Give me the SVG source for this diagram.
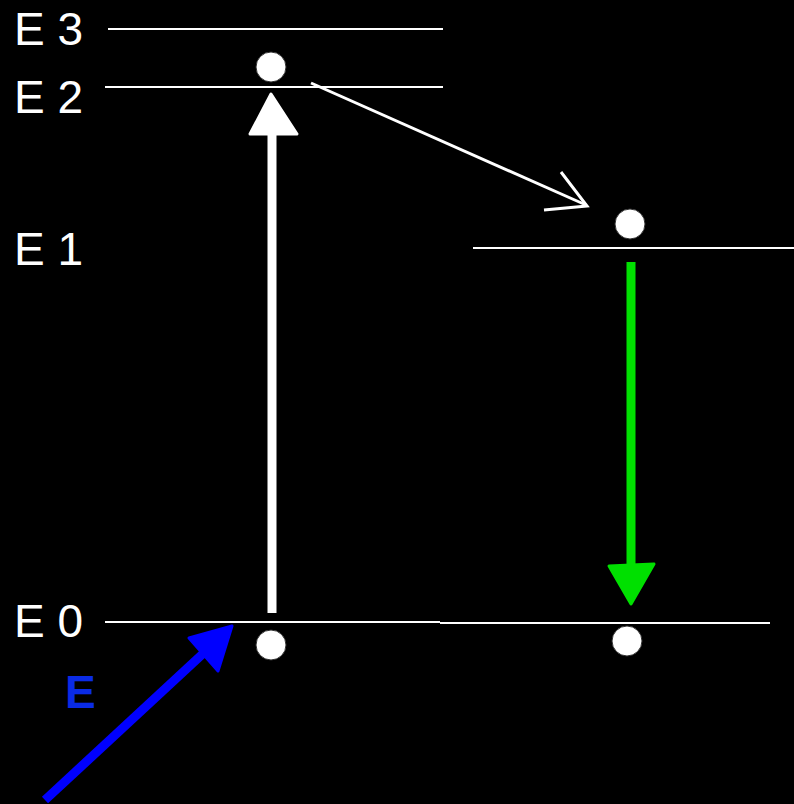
<svg xmlns="http://www.w3.org/2000/svg" width="794" height="804" viewBox="0 0 794 804">
<style>
.lvl{stroke:#fff;stroke-width:2;fill:none}
.lbl{font-family:"Liberation Sans",Arial,sans-serif;font-size:46px;fill:#fff}
.e{fill:#fff;stroke:#333;stroke-width:1}
</style>
<rect width="794" height="804" fill="#000"/>
<g id="levels">
<line class="lvl" x1="108" y1="29" x2="443" y2="29"/>
<line class="lvl" x1="105" y1="87" x2="443" y2="87"/>
<line class="lvl" x1="473" y1="248" x2="794" y2="248"/>
<line class="lvl" x1="105" y1="622" x2="440" y2="622"/>
<line class="lvl" x1="440" y1="623" x2="770" y2="623"/>
</g>
<g id="labels">
<text class="lbl" x="14" y="45">E 3</text>
<text class="lbl" x="14" y="113">E 2</text>
<text class="lbl" x="14" y="265">E 1</text>
<text class="lbl" x="14" y="637">E 0</text>
<text x="65" y="708" font-family="Liberation Sans,Arial,sans-serif" font-size="46" font-weight="bold" fill="#0a2be6">E</text>
</g>
<g id="electrons">
<circle class="e" cx="271" cy="67" r="15"/>
<circle class="e" cx="630" cy="224" r="15"/>
<circle class="e" cx="271" cy="645" r="15"/>
<circle class="e" cx="627" cy="641" r="15"/>
</g>
<g id="connectors">
<line x1="272" y1="613" x2="272" y2="128" stroke="#fff" stroke-width="9"/>
<polygon points="271,94 297,134 250,134" fill="#fff" stroke="#fff" stroke-width="3" stroke-linejoin="round"/>
<line x1="311" y1="83" x2="586" y2="205" stroke="#fff" stroke-width="3"/>
<polyline points="561,172 587,206 544,210" fill="none" stroke="#fff" stroke-width="3"/>
<line x1="631" y1="262" x2="631" y2="572" stroke="#00e000" stroke-width="9"/>
<polygon points="609,566 654,564 631,604" fill="#00e000" stroke="#00e000" stroke-width="3" stroke-linejoin="round"/>
<line x1="45" y1="800" x2="208" y2="649" stroke="#0000ff" stroke-width="9"/>
<polygon points="232,626 189,638 218,671" fill="#0000ff" stroke="#0000ff" stroke-width="3" stroke-linejoin="round"/>
</g>
</svg>
